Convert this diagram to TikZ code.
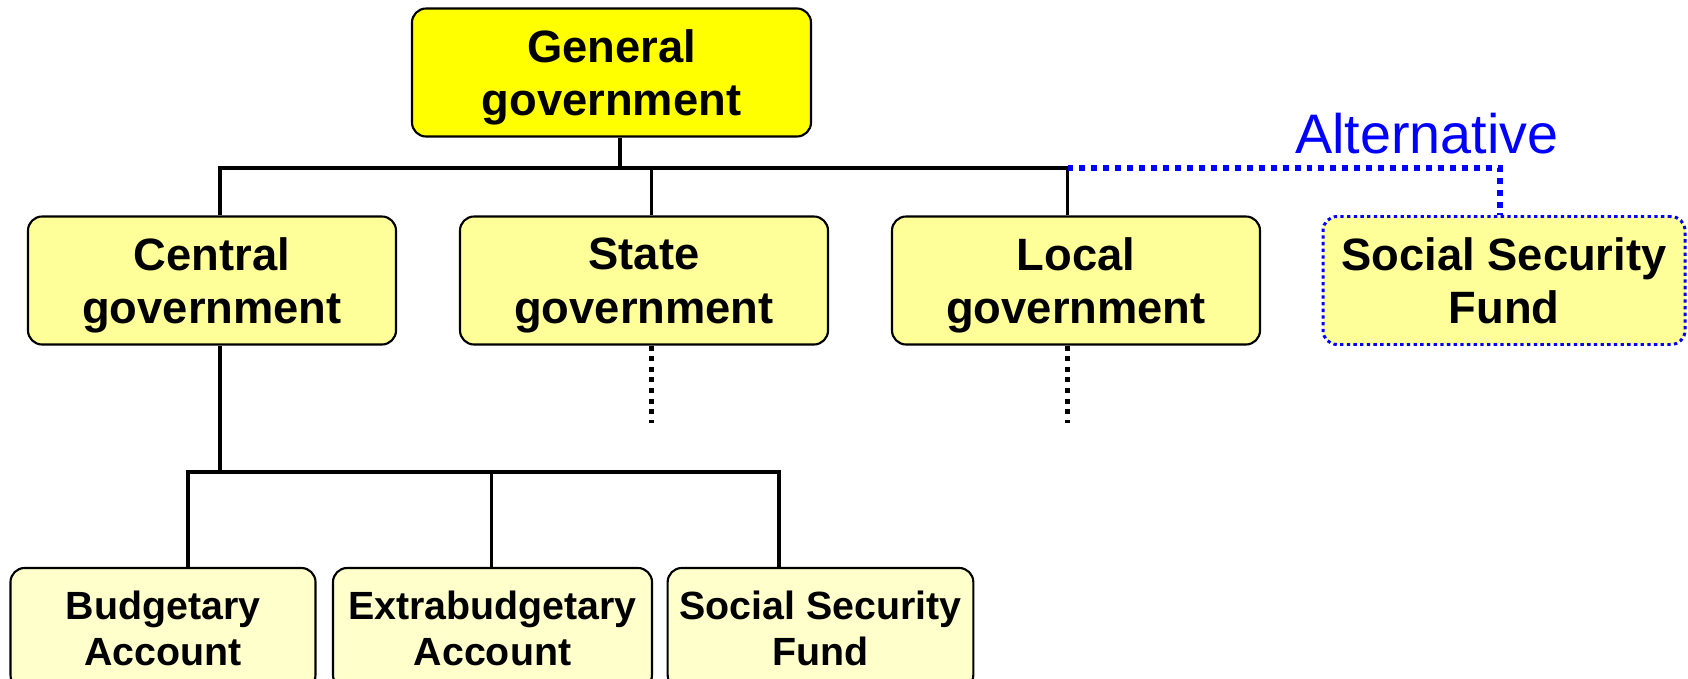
\documentclass[tikz,border=0pt]{standalone}
\usepackage{fontspec}
\setmainfont{Liberation Sans}
\usepackage{tikz}
\usetikzlibrary{shapes.geometric, arrows}
\definecolor{genyellow}{RGB}{255,255,0}
\definecolor{levelyellow}{RGB}{255,255,153}
\definecolor{subyellow}{RGB}{255,255,204}
\tikzstyle{genbox} = [rectangle, rounded corners=4pt, minimum width=3.99cm, minimum height=1.28cm, align=center, text depth=0pt, draw=black, line width=0.6pt, fill=genyellow, font=\fontsize{12.9}{15.2}\selectfont\bfseries]
\tikzstyle{levelbox} = [genbox, minimum width=3.68cm, fill=levelyellow]
\tikzstyle{altbox} = [levelbox, minimum width=3.62cm, draw=blue, line width=0.85pt, dash pattern=on 0.95pt off 0.95pt]
\tikzstyle{subbox} = [genbox, minimum width=3.05cm, minimum height=1.21cm, fill=subyellow, font=\fontsize{11.2}{13.1}\selectfont\bfseries]
\tikzstyle{line} = [line width=0.95pt]
\tikzstyle{stub} = [line width=1.42pt, dash pattern=on 1.42pt off 1.6pt]
\tikzstyle{altline} = [blue, line width=1.5pt, dash pattern=on 1.7pt off 1.7pt]

\begin{document}
\begin{tikzpicture}[node distance=4.32cm]
        \useasboundingbox (0,0) rectangle (16.88,-6.78);
        \clip (0,0) rectangle (16.88,-6.78);

        % boxes
        \node (gen) [genbox] at (6.115,-0.725) {General\\government};
        \node (central) [levelbox] at (2.12,-2.805) {Central\\government};
        \node (state) [levelbox, right of = central] {State\\government};
        \node (local) [levelbox, right of = state] {Local\\government};
        \node (altssf) [altbox] at (15.04,-2.805) {Social Security\\Fund};
        \node (alttext) [anchor=base, text=blue, font=\fontsize{15.85}{19}\selectfont] at (14.27,-1.53) {Alternative};

        \node (budget) [subbox] at (1.63,-6.285) {Budgetary\\Account};
        \node (extra) [subbox, minimum width=3.19cm, right of = budget, node distance=3.295cm] {Extrabudgetary\\Account};
        \node (ssf) [subbox, right of = extra, node distance=3.28cm] {Social Security\\Fund};

        % junctions
        \coordinate (genjoin) at (6.20,-1.68);
        \coordinate (centraljoin) at (2.20,-1.68);
        \coordinate (statejoin) at (6.515,-1.68);
        \coordinate (localjoin) at (10.675,-1.68);
        \coordinate (altjoin) at (15.00,-1.68);
        \coordinate (subjoin) at (2.20,-4.72);
        \coordinate (budgetjoin) at (1.88,-4.72);
        \coordinate (extrajoin) at (4.917,-4.72);
        \coordinate (ssfjoin) at (7.79,-4.72);
        \coordinate (stateend) at (6.515,-4.23);
        \coordinate (localend) at (10.675,-4.23);

        \draw[line] (gen.south -| genjoin) -- (genjoin);
        \draw[line] (central.north -| centraljoin) -- (centraljoin) -- (localjoin) -- (local.north -| localjoin);
        \draw[line] (statejoin) -- (state.north -| statejoin);
        \draw[altline] (localjoin) -- (altjoin) -- (altssf.north -| altjoin);

        \draw[stub] (state.south -| stateend) -- (stateend);
        \draw[stub] (local.south -| localend) -- (localend);

        \draw[line] (central.south -| subjoin) -- (subjoin);
        \draw[line] (budget.north -| budgetjoin) -- (budgetjoin) -- (ssfjoin) -- (ssf.north -| ssfjoin);
        \draw[line] (extrajoin) -- (extra.north -| extrajoin);
    \end{tikzpicture}
\end{document}
